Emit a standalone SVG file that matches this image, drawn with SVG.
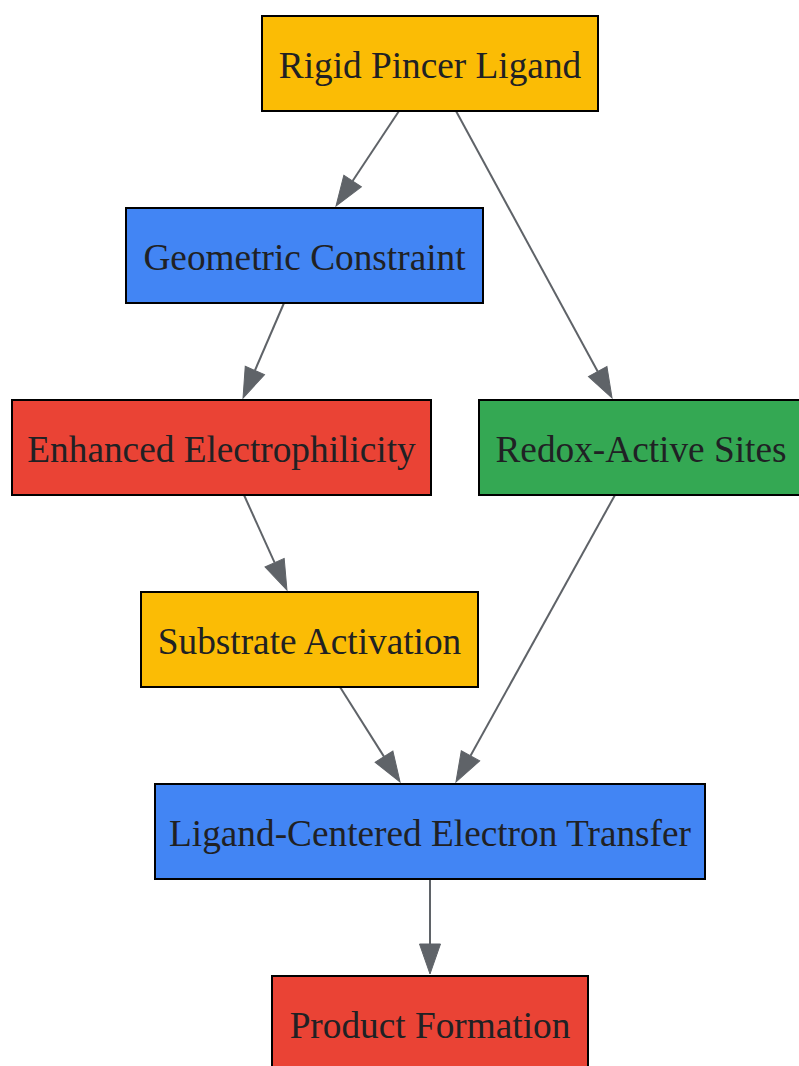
<svg xmlns="http://www.w3.org/2000/svg" width="799" height="1066" viewBox="0 0 799 1066">
<style>
.box{stroke:#000;stroke-width:2}
.lbl{font-family:"Liberation Serif","Times New Roman",serif;font-size:37.3px;fill:#202124;text-anchor:middle}
.edge{stroke:#5F6368;stroke-width:2;fill:none}
.y{fill:#FBBC05}.b{fill:#4285F4}.r{fill:#EA4335}.g{fill:#34A853}
</style>
<defs>
<marker id="ah" markerUnits="userSpaceOnUse" markerWidth="32" markerHeight="24" refX="0" refY="0" viewBox="0 -12 32 24" orient="auto" overflow="visible">
<path d="M0,-10.5 L30,0 L0,10.5 z" fill="#5F6368" stroke="#5F6368" stroke-width="1"/>
</marker>
</defs>
<rect width="799" height="1066" fill="#fff"/>
<g id="edges">
<line class="edge" x1="399" y1="111" x2="352.6" y2="181" marker-end="url(#ah)"/>
<line class="edge" x1="456" y1="111" x2="597.7" y2="371.6" marker-end="url(#ah)"/>
<line class="edge" x1="284" y1="303" x2="254.9" y2="370.5" marker-end="url(#ah)"/>
<line class="edge" x1="244" y1="495" x2="274.6" y2="562.7" marker-end="url(#ah)"/>
<line class="edge" x1="615" y1="495" x2="470.5" y2="755.8" marker-end="url(#ah)"/>
<line class="edge" x1="340" y1="687" x2="384" y2="756.6" marker-end="url(#ah)"/>
<line class="edge" x1="430" y1="879" x2="430" y2="944" marker-end="url(#ah)"/>
</g>
<g id="n1"><rect class="box y" x="262" y="16" width="336" height="95"/><text class="lbl" x="430" y="78">Rigid Pincer Ligand</text></g>
<g id="n2"><rect class="box b" x="126" y="208" width="357" height="95"/><text class="lbl" x="304.5" y="270">Geometric Constraint</text></g>
<g id="n3"><rect class="box r" x="12" y="400" width="419" height="95"/><text class="lbl" x="221.5" y="462">Enhanced Electrophilicity</text></g>
<g id="n4"><rect class="box g" x="479" y="400" width="324" height="95"/><text class="lbl" x="641" y="462">Redox-Active Sites</text></g>
<g id="n5"><rect class="box y" x="141" y="592" width="337" height="95"/><text class="lbl" x="309.5" y="654">Substrate Activation</text></g>
<g id="n6"><rect class="box b" x="155" y="784" width="550" height="95"/><text class="lbl" x="430" y="846">Ligand-Centered Electron Transfer</text></g>
<g id="n7"><rect class="box r" x="272" y="976" width="316" height="100"/><text class="lbl" x="430" y="1038">Product Formation</text></g>
</svg>
